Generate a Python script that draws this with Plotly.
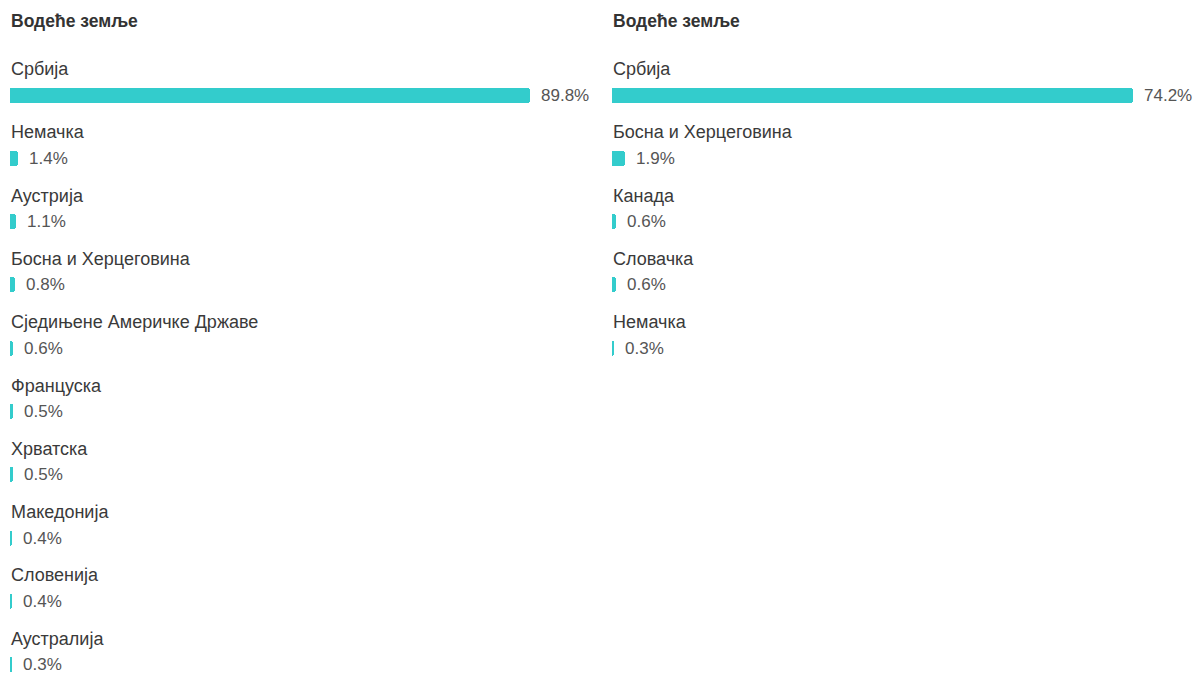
import plotly.graph_objects as go

title_left = "Водеће земље"
title_right = "Водеће земље"

left_countries = ["Србија", "Немачка", "Аустрија", "Босна и Херцеговина",
                  "Сједињене Америчке Државе", "Француска", "Хрватска",
                  "Македонија", "Словенија", "Аустралија"]
left_values = [89.8, 1.4, 1.1, 0.8, 0.6, 0.5, 0.5, 0.4, 0.4, 0.3]

right_countries = ["Србија", "Босна и Херцеговина", "Канада", "Словачка", "Немачка"]
right_values = [74.2, 1.9, 0.6, 0.6, 0.3]

W, H = 1195, 673
BAR_COLOR = "#33cccc"
LABEL_COLOR = "#3a3a3a"
VALUE_COLOR = "#555555"
FONT = "'Liberation Sans', Arial, sans-serif"

# pixel geometry
pitch = 63.3
first_center = 95
y_top = -first_center / pitch
y_bot = (H - first_center) / pitch
bar_w = 15 / pitch

fig = go.Figure()

panels = [
    (left_countries, left_values, title_left, 10, 530, 590),
    (right_countries, right_values, title_right, 612, 1133, 1193),
]

annotations = []
for idx, (cats, vals, title, px0, pxmax, pxend) in enumerate(panels):
    n = len(cats)
    ys = list(range(n))
    suffix = "" if idx == 0 else "2"
    xref = "x" + suffix
    yref = "y" + suffix
    fig.add_trace(go.Bar(
        x=vals, y=ys, orientation="h", width=bar_w,
        marker=dict(color=BAR_COLOR, line=dict(width=0)),
        xaxis=xref, yaxis=yref, hoverinfo="skip", showlegend=False,
    ))
    vmax = max(vals)
    scale = (pxend - px0) / (pxmax - px0)
    fig.layout["xaxis" + suffix] = dict(
        domain=[px0 / W, pxend / W], range=[0, vmax * scale],
        visible=False, fixedrange=True, anchor=yref,
    )
    fig.layout["yaxis" + suffix] = dict(
        domain=[0, 1], range=[y_bot, y_top], visible=False,
        fixedrange=True, anchor=xref,
    )
    for i, (c, v) in enumerate(zip(cats, vals)):
        annotations.append(dict(
            x=0, y=i, xref=xref, yref=yref, text=c, showarrow=False,
            xanchor="left", yanchor="middle", yshift=26, xshift=-1,
            font=dict(family=FONT, size=18, color=LABEL_COLOR),
        ))
        annotations.append(dict(
            x=v, y=i, xref=xref, yref=yref, text=f"{v:.1f}%", showarrow=False,
            xanchor="left", yanchor="middle", xshift=9,
            font=dict(family=FONT, size=17, color=VALUE_COLOR),
        ))
    annotations.append(dict(
        x=0, y=1 - 21 / H, xref=xref, yref="paper", text=f"<b>{title}</b>",
        showarrow=False, xanchor="left", yanchor="middle", xshift=-1,
        font=dict(family=FONT, size=17.5, color="#333333"),
    ))

fig.update_layout(
    width=W, height=H, margin=dict(l=0, r=0, t=0, b=0),
    paper_bgcolor="white", plot_bgcolor="white",
    annotations=annotations, barcornerradius=3, bargap=0,
)

fig.write_html(
    "out.html",
    config={"displayModeBar": False},
    post_script="document.body.style.margin='0';document.body.style.overflow='hidden';",
)
